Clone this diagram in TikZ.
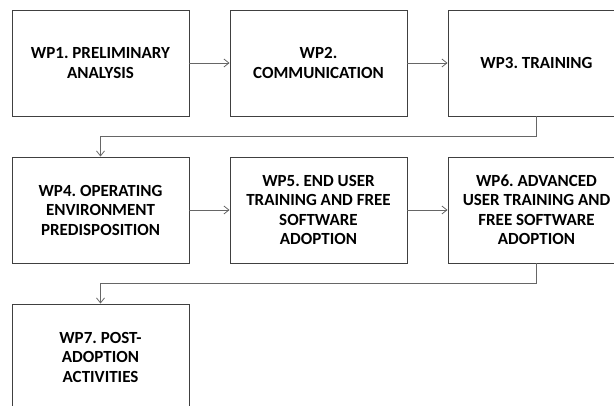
\documentclass[tikz,border=0pt]{standalone}
\usepackage{fontspec}
\setmainfont{Carlito}
\usetikzlibrary{arrows.meta}
\frenchspacing
\begin{document}
\begin{tikzpicture}[x=1pt,y=-1pt,
  wpbox/.style={draw=black!75,line width=0.9pt,fill=white,rectangle,
    minimum width=177pt,minimum height=106pt,inner sep=0pt,align=center,
    font=\fontsize{17}{19.5}\selectfont\bfseries},
  flow/.style={draw=black!60,line width=0.9pt,-{Straight Barb[length=5pt,width=8pt,line width=0.8pt]}}]
\useasboundingbox (0,0) rectangle (614,405);
\clip (0,0) rectangle (614,405);
% row 1
\node[wpbox] (wp1) at (100.5,63) {WP1. PRELIMINARY\\ANALYSIS};
\node[wpbox] (wp2) at (318.5,63) {WP2.\\COMMUNICATION};
\node[wpbox] (wp3) at (536.5,63) {WP3. TRAINING};
% row 2
\node[wpbox] (wp4) at (100.5,210) {WP4. OPERATING\\ENVIRONMENT\\PREDISPOSITION};
\node[wpbox] (wp5) at (318.5,210) {WP5. END USER\\TRAINING AND FREE\\SOFTWARE\\ADOPTION};
\node[wpbox] (wp6) at (536.5,210) {WP6. ADVANCED\\USER TRAINING AND\\FREE SOFTWARE\\ADOPTION};
% row 3
\node[wpbox] (wp7) at (100.5,357) {WP7. POST-\\ADOPTION\\ACTIVITIES};
% connectors
\draw[flow] (wp1) -- (wp2);
\draw[flow] (wp2) -- (wp3);
\draw[flow] (wp3.south) -- ++(0,20) -| (wp4.north);
\draw[flow] (wp4) -- (wp5);
\draw[flow] (wp5) -- (wp6);
\draw[flow] (wp6.south) -- ++(0,20) -| (wp7.north);
\end{tikzpicture}
\end{document}
